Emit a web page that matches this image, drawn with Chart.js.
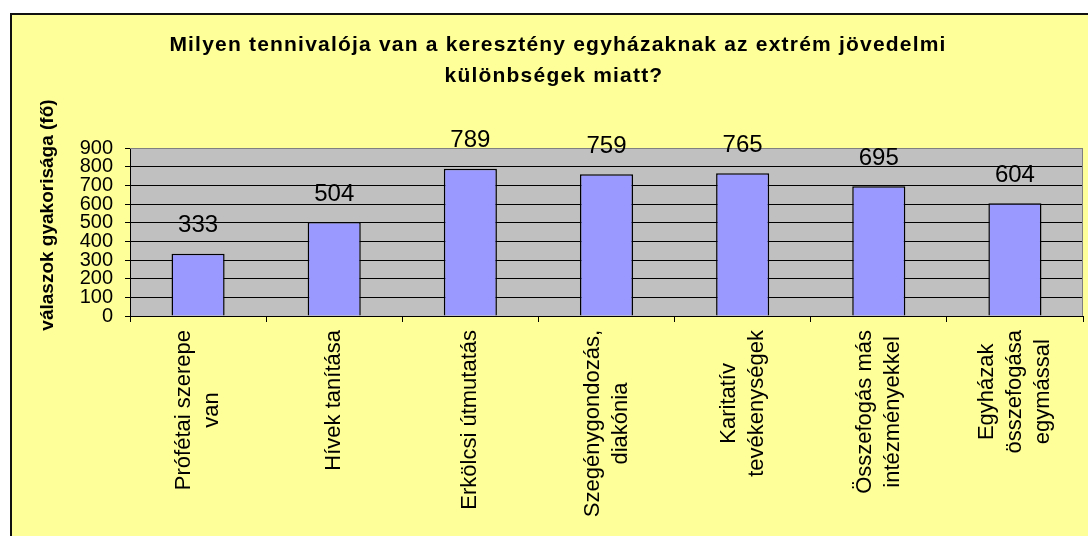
<!DOCTYPE html>
<html>
<head>
<meta charset="utf-8">
<script src="https://cdn.jsdelivr.net/npm/chart.js@4"></script>
<style>
  html, body { margin: 0; padding: 0; background: #fff; overflow: hidden; width: 1088px; height: 536px; }
  #frame {
    position: absolute; left: 10px; top: 13px;
    width: 1100px; height: 540px;
    background: #FFFF99;
    border-left: 2px solid #111; border-top: 2px solid #111;
  }
  #wrap { position: absolute; left: 0; top: 0; width: 1076px; height: 521px; }
</style>
</head>
<body>
<div id="frame"><div id="wrap"><canvas id="chart"></canvas></div></div>
<script>
const titleLines = ["Milyen tennivalója van a keresztény egyházaknak az extrém jövedelmi", "különbségek miatt?"];
const yTitle = "válaszok gyakorisága (fő)";
const categories = [
  ["Prófétai szerepe", "van"],
  ["Hívek tanítása"],
  ["Erkölcsi útmutatás"],
  ["Szegénygondozás,", "diakónia"],
  ["Karitatív", "tevékenységek"],
  ["Összefogás más", "intézményekkel"],
  ["Egyházak", "összefogása", "egymással"]
];
const answers = [333, 504, 789, 759, 765, 695, 604];
const yMin = 0, yMax = 900, yStep = 100;

const FONT = "'Liberation Sans', Arial, sans-serif";

// plot background, grey border, texts drawn by hand
const decor = {
  id: "decor",
  beforeDraw(chart) {
    const { ctx, chartArea: a } = chart;
    ctx.save();
    ctx.fillStyle = "#C0C0C0";
    ctx.fillRect(a.left, a.top, a.right - a.left, a.bottom - a.top);
    ctx.restore();
  },
  beforeDatasetsDraw(chart) {
    const { ctx, chartArea: a } = chart;
    ctx.save();
    ctx.strokeStyle = "#808080";
    ctx.lineWidth = 1;
    ctx.beginPath();
    ctx.moveTo(a.left, a.top + 0.5);
    ctx.lineTo(a.right - 0.5, a.top + 0.5);
    ctx.lineTo(a.right - 0.5, a.bottom);
    ctx.stroke();
    ctx.restore();
  },
  afterDraw(chart) {
    const { ctx, chartArea: a } = chart;
    const x = chart.scales.x;

    // title
    ctx.save();
    ctx.fillStyle = "#000";
    ctx.font = "bold 21px " + FONT;
    ctx.letterSpacing = "1.2px";
    ctx.textAlign = "center";
    ctx.textBaseline = "alphabetic";
    ctx.fillText(titleLines[0], 546, 36);
    ctx.fillText(titleLines[1], 542, 67);
    ctx.restore();

    // y title
    ctx.save();
    ctx.fillStyle = "#000";
    ctx.font = "bold 19px " + FONT;
    ctx.textAlign = "center";
    ctx.textBaseline = "middle";
    ctx.translate(a.left - 82, (a.top + a.bottom) / 2 - 17);
    ctx.rotate(-Math.PI / 2);
    ctx.fillText(yTitle, 0, 0);
    ctx.restore();

    // category labels, rotated, lines centered to each other
    ctx.save();
    ctx.fillStyle = "#000";
    ctx.font = "22px " + FONT;
    ctx.textAlign = "center";
    ctx.textBaseline = "middle";
    const lh = 28;
    categories.forEach((lines, i) => {
      const cx = x.getPixelForValue(i);
      const maxW = Math.max(...lines.map(l => ctx.measureText(l).width));
      ctx.save();
      ctx.translate(cx, a.bottom);
      ctx.rotate(-Math.PI / 2);
      lines.forEach((l, k) => {
        ctx.fillText(l, -(14 + maxW / 2), (k - (lines.length - 1) / 2) * lh);
      });
      ctx.restore();
    });
    ctx.restore();

    // value labels
    ctx.save();
    ctx.fillStyle = "#000";
    ctx.font = "24px " + FONT;
    ctx.textAlign = "center";
    ctx.textBaseline = "middle";
    chart.getDatasetMeta(0).data.forEach((bar, i) => {
      ctx.fillText(String(answers[i]), bar.x, bar.y - 28);
    });
    ctx.restore();
  }
};

new Chart(document.getElementById("chart"), {
  type: "bar",
  data: {
    labels: categories,
    datasets: [{
      data: answers,
      backgroundColor: "#9999FF",
      borderColor: "#000",
      borderWidth: 1.5,
      categoryPercentage: 1,
      barPercentage: 0.39
    }]
  },
  options: {
    responsive: true,
    maintainAspectRatio: false,
    animation: false,
    layout: { padding: { top: 133, right: 5, left: 0, bottom: 0 } },
    plugins: {
      legend: { display: false },
      tooltip: { enabled: false },
      title: { display: false }
    },
    scales: {
      x: {
        offset: true,
        grid: {
          offset: true,
          drawOnChartArea: false,
          drawTicks: true,
          tickLength: 6,
          tickColor: "#000",
          color: "#000"
        },
        border: { display: true, color: "#000", width: 1 },
        ticks: { display: false },
        afterFit(s) { s.height = 220; }
      },
      y: {
        min: yMin,
        max: yMax,
        grid: {
          color: c => (c.tick && c.tick.value === yMax ? "#808080" : "#000"),
          tickColor: "#000",
          tickLength: 5,
          lineWidth: 1
        },
        border: { display: true, color: "#000", width: 1 },
        ticks: {
          stepSize: yStep,
          autoSkip: false,
          maxTicksLimit: 20,
          padding: 12,
          color: "#000",
          font: { family: FONT, size: 20, lineHeight: 0.8 }
        },
        afterFit(s) { s.width = 118; }
      }
    }
  },
  plugins: [decor]
});
</script>
</body>
</html>
